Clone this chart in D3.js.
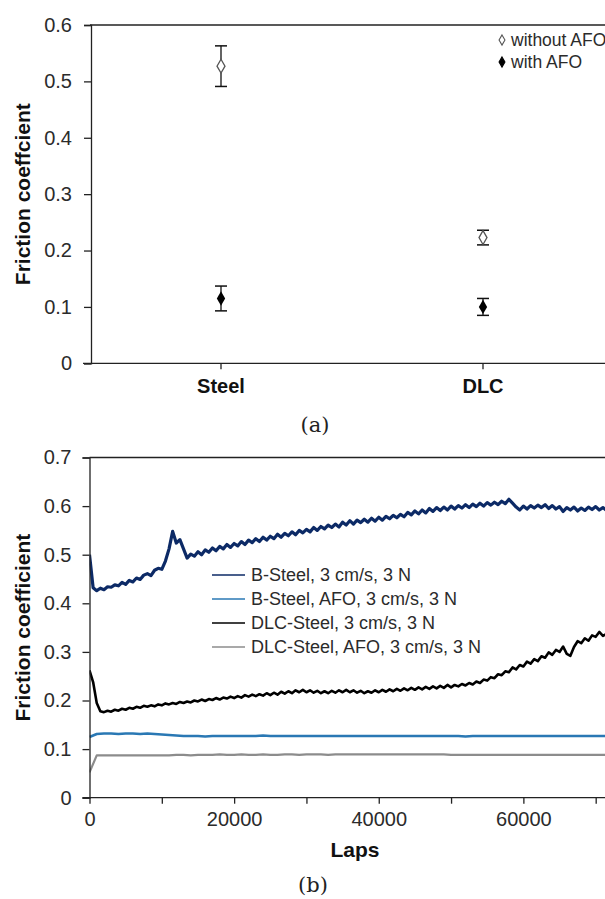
<!DOCTYPE html>
<html>
<head>
<meta charset="utf-8">
<script src="https://cdn.jsdelivr.net/npm/d3@7"></script>
<style>
  html, body { margin: 0; padding: 0; background: #fff; }
  svg { display: block; }
  text { font-family: "Liberation Sans", Arial, sans-serif; }
</style>
</head>
<body>
<svg id="fig" width="605" height="899"></svg>
<script>
// ---------- (a) mean friction coefficient per material ----------
const materials = ["Steel", "DLC"];
const withoutAfoMean = [0.527, 0.223];
const withoutAfoErr  = [0.036, 0.013];
const withAfoMean    = [0.115, 0.100];
const withAfoErr     = [0.022, 0.015];
const topTicks = [0, 0.1, 0.2, 0.3, 0.4, 0.5, 0.6];

// ---------- (b) friction coefficient vs laps ----------
const lapsStepFine = 500;    // sampling of the noisy traces
const lapsStepCoarse = 1000; // sampling of the flat AFO traces
const bSteel = [
  0.500,0.432,0.426,0.431,0.428,0.434,0.433,0.438,0.436,0.443,
  0.439,0.447,0.444,0.452,0.449,0.458,0.461,0.457,0.468,0.472,
  0.470,0.487,0.512,0.548,0.524,0.531,0.512,0.493,0.501,0.497,
  0.506,0.500,0.510,0.505,0.514,0.508,0.517,0.512,0.521,0.515,
  0.523,0.518,0.527,0.521,0.530,0.525,0.533,0.527,0.536,0.530,
  0.538,0.533,0.542,0.536,0.544,0.539,0.547,0.541,0.550,0.545,
  0.552,0.547,0.556,0.550,0.558,0.553,0.561,0.556,0.563,0.557,
  0.567,0.561,0.570,0.563,0.571,0.566,0.573,0.567,0.575,0.569,
  0.577,0.571,0.579,0.574,0.581,0.576,0.583,0.578,0.587,0.582,
  0.590,0.584,0.592,0.586,0.595,0.589,0.597,0.591,0.598,0.592,
  0.600,0.594,0.601,0.596,0.603,0.597,0.604,0.599,0.606,0.600,
  0.607,0.602,0.608,0.603,0.610,0.605,0.614,0.606,0.598,0.592,
  0.600,0.594,0.601,0.596,0.602,0.597,0.603,0.595,0.601,0.594,
  0.599,0.589,0.597,0.592,0.598,0.590,0.596,0.591,0.598,0.593,
  0.599,0.592,0.597,0.591,0.596
];
const bSteelAfo = [
  0.125,0.131,0.132,0.132,0.131,0.132,0.132,0.131,0.132,0.131,
  0.130,0.129,0.128,0.127,0.127,0.127,0.126,0.127,0.127,0.127,
  0.127,0.127,0.127,0.127,0.128,0.127,0.127,0.127,0.127,0.127,
  0.127,0.127,0.127,0.127,0.127,0.127,0.127,0.127,0.127,0.127,
  0.127,0.127,0.127,0.127,0.127,0.127,0.127,0.127,0.127,0.127,
  0.127,0.127,0.126,0.127,0.127,0.127,0.127,0.127,0.127,0.127,
  0.127,0.127,0.127,0.127,0.127,0.127,0.127,0.127,0.127,0.127,
  0.127,0.127,0.127
];
const dlcSteel = [
  0.262,0.238,0.195,0.178,0.176,0.179,0.177,0.181,0.179,0.183,
  0.181,0.185,0.183,0.187,0.185,0.189,0.187,0.190,0.188,0.192,
  0.190,0.194,0.192,0.195,0.193,0.197,0.195,0.198,0.196,0.200,
  0.198,0.202,0.199,0.203,0.201,0.205,0.202,0.206,0.204,0.208,
  0.205,0.209,0.206,0.211,0.208,0.212,0.209,0.213,0.210,0.215,
  0.211,0.216,0.212,0.218,0.214,0.219,0.215,0.221,0.217,0.222,
  0.217,0.221,0.216,0.220,0.215,0.219,0.215,0.220,0.216,0.221,
  0.217,0.222,0.217,0.221,0.216,0.220,0.215,0.219,0.216,0.221,
  0.217,0.222,0.218,0.223,0.219,0.224,0.220,0.225,0.221,0.226,
  0.222,0.227,0.223,0.228,0.224,0.229,0.225,0.230,0.226,0.232,
  0.227,0.232,0.229,0.234,0.231,0.236,0.233,0.239,0.236,0.243,
  0.241,0.248,0.246,0.254,0.252,0.260,0.258,0.268,0.264,0.273,
  0.270,0.280,0.276,0.285,0.281,0.291,0.288,0.299,0.294,0.304,
  0.300,0.311,0.296,0.292,0.310,0.322,0.318,0.328,0.323,0.334,
  0.331,0.341,0.333,0.337,0.331
];
const dlcSteelAfo = [
  0.052,0.087,0.087,0.087,0.087,0.087,0.087,0.087,0.087,0.087,
  0.087,0.087,0.088,0.088,0.087,0.088,0.088,0.088,0.089,0.088,
  0.088,0.089,0.088,0.088,0.089,0.088,0.088,0.089,0.089,0.088,
  0.089,0.089,0.089,0.088,0.089,0.089,0.089,0.089,0.089,0.089,
  0.089,0.089,0.089,0.089,0.089,0.089,0.089,0.089,0.089,0.089,
  0.088,0.088,0.088,0.088,0.088,0.088,0.088,0.088,0.088,0.088,
  0.088,0.088,0.088,0.088,0.088,0.088,0.088,0.088,0.088,0.088,
  0.088,0.088,0.088
];
const seriesNames = [
  "B-Steel, 3 cm/s, 3 N",
  "B-Steel, AFO, 3 cm/s, 3 N",
  "DLC-Steel, 3 cm/s, 3 N",
  "DLC-Steel, AFO, 3 cm/s, 3 N"
];
const seriesColors = ["#0c2a66", "#2a78b4", "#000000", "#8c8c8c"];
const bottomYTicks = [0, 0.1, 0.2, 0.3, 0.4, 0.5, 0.6, 0.7];
const bottomXTicks = [0, 10000, 20000, 30000, 40000, 50000, 60000, 70000, 80000];
const bottomXLabels = [0, 20000, 40000, 60000];

const svg = d3.select("#fig");
svg.append("rect").attr("width", 605).attr("height", 899).attr("fill", "#fff");

const tickColor = "#2b2b2b";

// ================= panel (a) =================
const xA = d3.scaleBand().domain(materials).range([90, 614]);
const yA = d3.scaleLinear().domain([0, 0.6]).range([363.3, 25]);
const gA = svg.append("g");

// frame top edge
gA.append("line")
  .attr("x1", xA.range()[0]).attr("x2", xA.range()[1])
  .attr("y1", yA(0.6)).attr("y2", yA(0.6))
  .attr("stroke", "#222").attr("stroke-width", 1.3);

const yAxisA = gA.append("g")
  .attr("transform", `translate(${xA.range()[0] + 1},0)`)
  .call(d3.axisLeft(yA).tickValues(topTicks).tickSize(7).tickPadding(12)
        .tickFormat(d => d === 0 ? "0" : d3.format(".1f")(d)));
yAxisA.select(".domain").attr("stroke", "#222").attr("stroke-width", 1.3);
yAxisA.selectAll(".tick line").attr("stroke", "#222").attr("stroke-width", 1.3);
yAxisA.selectAll(".tick text").attr("font-size", 20).attr("fill", tickColor)
  .attr("font-family", "'Liberation Sans', Arial, sans-serif");

const xAxisA = gA.append("g")
  .attr("transform", `translate(0,${yA(0)})`)
  .call(d3.axisBottom(xA).tickSize(6).tickPadding(10));
xAxisA.select(".domain").attr("stroke", "#222").attr("stroke-width", 1.3)
  .attr("d", `M${xA.range()[0] - 7},0H${xA.range()[1]}`);
xAxisA.selectAll(".tick line").attr("stroke", "#222").attr("stroke-width", 1.3);
xAxisA.selectAll(".tick text").attr("font-size", 20).attr("font-weight", "bold")
  .attr("fill", "#111").attr("font-family", "'Liberation Sans', Arial, sans-serif");

gA.append("text")
  .attr("transform", `translate(30,${(yA(0) + yA(0.6)) / 2}) rotate(-90)`)
  .attr("text-anchor", "middle")
  .attr("font-size", 21).attr("font-weight", "bold").attr("fill", "#111")
  .text("Friction coeffcient");

const cx = d => xA(d) + xA.bandwidth() / 2;
const diamond = d3.symbol().type(d3.symbolDiamond);

function errorBars(means, errs) {
  materials.forEach((m, i) => {
    const x = cx(m), lo = yA(means[i] - errs[i]), hi = yA(means[i] + errs[i]);
    gA.append("line").attr("x1", x).attr("x2", x).attr("y1", lo).attr("y2", hi)
      .attr("stroke", "#111").attr("stroke-width", 1.3);
    [lo, hi].forEach(y => gA.append("line")
      .attr("x1", x - 6).attr("x2", x + 6).attr("y1", y).attr("y2", y)
      .attr("stroke", "#111").attr("stroke-width", 1.5));
  });
}
errorBars(withoutAfoMean, withoutAfoErr);
errorBars(withAfoMean, withAfoErr);

materials.forEach((m, i) => {
  gA.append("path").attr("d", diamond.size(55)())
    .attr("transform", `translate(${cx(m)},${yA(withoutAfoMean[i])})`)
    .attr("fill", "#fff").attr("stroke", "#555").attr("stroke-width", 1.3);
  gA.append("path").attr("d", diamond.size(60)())
    .attr("transform", `translate(${cx(m)},${yA(withAfoMean[i])})`)
    .attr("fill", "#000");
});

// legend (a)
const legA = gA.append("g");
[["without AFO", false], ["with AFO", true]].forEach(([label, filled], i) => {
  const y = 40 + i * 22;
  legA.append("path").attr("d", diamond.size(30)())
    .attr("transform", `translate(502,${y})`)
    .attr("fill", filled ? "#000" : "#fff")
    .attr("stroke", filled ? "#000" : "#555").attr("stroke-width", 1.1);
  legA.append("text").attr("x", 511).attr("y", y).attr("dy", "0.35em")
    .attr("font-size", 17.5).attr("fill", "#2b2b2b").text(label);
});

svg.append("text").attr("x", 315).attr("y", 425).attr("dy", "0.35em")
  .attr("text-anchor", "middle").attr("font-size", 21)
  .style("font-family", "'DejaVu Serif', 'Liberation Serif', serif")
  .attr("fill", "#222").text("(a)");

// ================= panel (b) =================
const xB = d3.scaleLinear().domain([0, 80000]).range([89.5, 668]);
const yB = d3.scaleLinear().domain([0, 0.7]).range([797.7, 457.5]);
const gB = svg.append("g");

gB.append("line")
  .attr("x1", xB(0)).attr("x2", xB(80000))
  .attr("y1", yB(0.7)).attr("y2", yB(0.7))
  .attr("stroke", "#222").attr("stroke-width", 1.3);

svg.append("clipPath").attr("id", "plotB").append("rect")
  .attr("x", xB(0)).attr("y", yB(0.7))
  .attr("width", xB(80000) - xB(0)).attr("height", yB(0) - yB(0.7));

const lineGen = step => d3.line()
  .x((d, i) => xB(i * step))
  .y(d => yB(d));

const traces = [
  { data: bSteel,      step: lapsStepFine,   color: seriesColors[0], w: 3.2 },
  { data: bSteelAfo,   step: lapsStepCoarse, color: seriesColors[1], w: 2.6 },
  { data: dlcSteelAfo, step: lapsStepCoarse, color: seriesColors[3], w: 2.2 },
  { data: dlcSteel,    step: lapsStepFine,   color: seriesColors[2], w: 2.6 }
];
const plotB = gB.append("g").attr("clip-path", "url(#plotB)");
traces.forEach(t => {
  plotB.append("path").datum(t.data)
    .attr("d", lineGen(t.step))
    .attr("fill", "none").attr("stroke", t.color)
    .attr("stroke-width", t.w).attr("stroke-linejoin", "round");
});

const yAxisB = gB.append("g")
  .attr("transform", `translate(${xB(0)},0)`)
  .call(d3.axisLeft(yB).tickValues(bottomYTicks).tickSize(7).tickPadding(11)
        .tickFormat(d => d === 0 ? "0" : d3.format(".1f")(d)));
yAxisB.select(".domain").attr("stroke", "#222").attr("stroke-width", 1.3);
yAxisB.selectAll(".tick line").attr("stroke", "#222").attr("stroke-width", 1.3);
yAxisB.selectAll(".tick text").attr("font-size", 20).attr("fill", tickColor)
  .attr("font-family", "'Liberation Sans', Arial, sans-serif");

const xAxisB = gB.append("g")
  .attr("transform", `translate(0,${yB(0)})`)
  .call(d3.axisBottom(xB).tickValues(bottomXTicks).tickSize(6).tickPadding(8)
        .tickFormat(d => bottomXLabels.includes(d) ? String(d) : ""));
xAxisB.select(".domain").attr("stroke", "#222").attr("stroke-width", 1.3)
  .attr("d", `M${xB(0) - 7},0H${xB(80000)}`);
xAxisB.selectAll(".tick line").attr("stroke", "#222").attr("stroke-width", 1.3);
xAxisB.selectAll(".tick text").attr("font-size", 20).attr("fill", tickColor)
  .attr("font-family", "'Liberation Sans', Arial, sans-serif");

gB.append("text")
  .attr("x", 355).attr("y", 857)
  .attr("text-anchor", "middle")
  .attr("font-size", 21).attr("font-weight", "bold").attr("fill", "#111")
  .text("Laps");

gB.append("text")
  .attr("transform", `translate(30,${(yB(0) + yB(0.7)) / 2}) rotate(-90)`)
  .attr("text-anchor", "middle")
  .attr("font-size", 21).attr("font-weight", "bold").attr("fill", "#111")
  .text("Friction coefficient");

// legend (b)
const legB = gB.append("g");
seriesNames.forEach((name, i) => {
  const y = 575 + i * 24;
  legB.append("line").attr("x1", 212).attr("x2", 245).attr("y1", y).attr("y2", y)
    .attr("stroke", seriesColors[i]).attr("stroke-width", 1.6);
  legB.append("text").attr("x", 251).attr("y", y).attr("dy", "0.35em")
    .attr("font-size", 18).attr("fill", "#2b2b2b").text(name);
});

svg.append("text").attr("x", 313).attr("y", 885).attr("dy", "0.35em")
  .attr("text-anchor", "middle").attr("font-size", 21)
  .style("font-family", "'DejaVu Serif', 'Liberation Serif', serif")
  .attr("fill", "#222").text("(b)");
</script>
</body>
</html>
